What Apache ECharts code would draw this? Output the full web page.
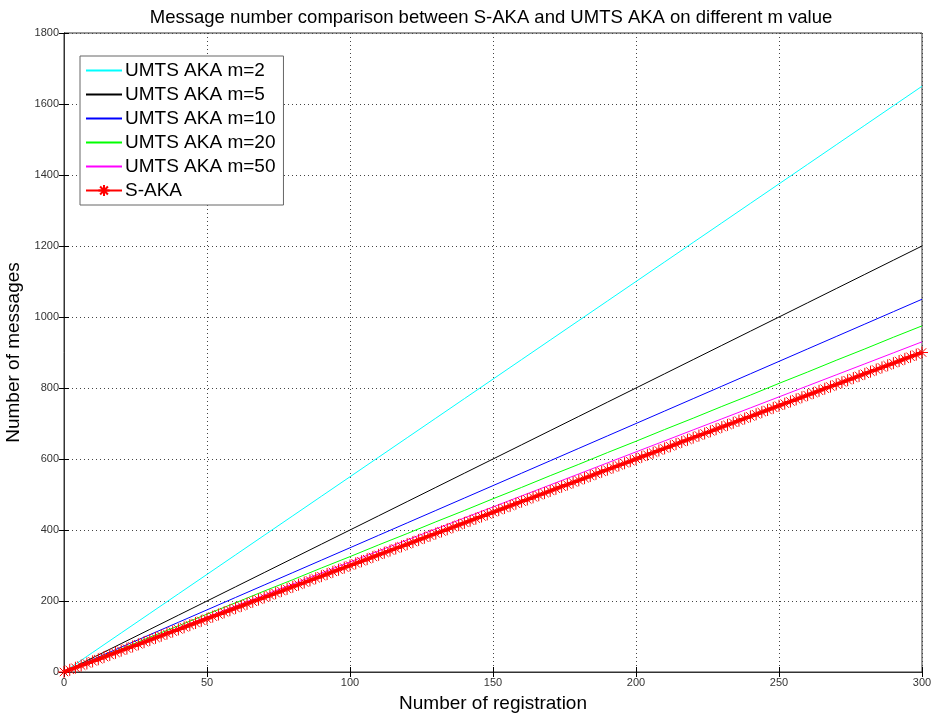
<!DOCTYPE html>
<html>
<head>
<meta charset="utf-8">
<script src="https://cdn.jsdelivr.net/npm/echarts@6/dist/echarts.min.js"></script>
<style>
html,body{margin:0;padding:0;background:#fff;}
#main{width:937px;height:713px;}
</style>
</head>
<body>
<div id="main"></div>
<script>
// registrations sampled every 10 for the UMTS curves
let regX = [0,10,20,30,40,50,60,70,80,90,100,110,120,130,140,150,160,170,180,190,200,210,220,230,240,250,260,270,280,290,300]
let umts2 = [0,55,110,165,220,275,330,385,440,495,550,605,660,715,770,825,880,935,990,1045,1100,1155,1210,1265,1320,1375,1430,1485,1540,1595,1650]
let umts5 = [0,40,80,120,160,200,240,280,320,360,400,440,480,520,560,600,640,680,720,760,800,840,880,920,960,1000,1040,1080,1120,1160,1200]
let umts10 = [0,35,70,105,140,175,210,245,280,315,350,385,420,455,490,525,560,595,630,665,700,735,770,805,840,875,910,945,980,1015,1050]
let umts20 = [0,33,65,98,130,163,195,228,260,293,325,358,390,423,455,488,520,553,585,618,650,683,715,748,780,813,845,878,910,943,975]
let umts50 = [0,31,62,93,124,155,186,217,248,279,310,341,372,403,434,465,496,527,558,589,620,651,682,713,744,775,806,837,868,899,930]

// S-AKA is drawn with a marker on (nearly) every registration
let sakaX = [0,2,4,6,8,10,12,14,16,18,20,22,24,26,28,30,32,34,36,38,40,42,44,46,48,50,52,54,56,58,60,62,64,66,68,70,72,74,76,78,80,82,84,86,88,90,92,94,96,98,100,102,104,106,108,110,112,114,116,118,120,122,124,126,128,130,132,134,136,138,140,142,144,146,148,150,152,154,156,158,160,162,164,166,168,170,172,174,176,178,180,182,184,186,188,190,192,194,196,198,200,202,204,206,208,210,212,214,216,218,220,222,224,226,228,230,232,234,236,238,240,242,244,246,248,250,252,254,256,258,260,262,264,266,268,270,272,274,276,278,280,282,284,286,288,290,292,294,296,298,300]
let saka = [0,6,12,18,24,30,36,42,48,54,60,66,72,78,84,90,96,102,108,114,120,126,132,138,144,150,156,162,168,174,180,186,192,198,204,210,216,222,228,234,240,246,252,258,264,270,276,282,288,294,300,306,312,318,324,330,336,342,348,354,360,366,372,378,384,390,396,402,408,414,420,426,432,438,444,450,456,462,468,474,480,486,492,498,504,510,516,522,528,534,540,546,552,558,564,570,576,582,588,594,600,606,612,618,624,630,636,642,648,654,660,666,672,678,684,690,696,702,708,714,720,726,732,738,744,750,756,762,768,774,780,786,792,798,804,810,816,822,828,834,840,846,852,858,864,870,876,882,888,894,900]

let names = ["UMTS AKA m=2","UMTS AKA m=5","UMTS AKA m=10","UMTS AKA m=20","UMTS AKA m=50","S-AKA"]
let colors = ["#00ffff","#000000","#0000ff","#00ff00","#ff00ff","#ff0000"]

function pairs(xs, ys){
    return xs.map((x,i)=>[x, ys[i]])
}

var myChart = echarts.init(document.getElementById('main'))

let font = 'Liberation Sans, Arial, sans-serif'
let star = 'path://M0,-5L0,5M-5,0L5,0M-3.5,-3.5L3.5,3.5M-3.5,3.5L3.5,-3.5'

let lineSeries = [umts2,umts5,umts10,umts20,umts50].map((ys,i)=>({
    name: names[i],
    type: 'line',
    data: pairs(regX, ys),
    showSymbol: false,
    symbol: 'none',
    lineStyle: {color: colors[i], width: 1},
    itemStyle: {color: colors[i]}
}))

// legend entries: plain lines for UMTS, line + star for S-AKA
let legendData = names.map((n,i)=> i < 5 ? {name: n, itemStyle: {opacity: 0}} : {name: n})

var option = {
    animation: false,
    backgroundColor: '#fff',
    title: {
      text: 'Message number comparison between S-AKA and UMTS AKA on different m value',
      left: 486,
      textAlign: 'center',
      top: 3,
      textStyle: {fontFamily: font, fontSize: 18.5, fontWeight: 'normal', color: '#000'}
    },
    grid: {left: 64, right: 15, top: 33, bottom: 41, show: true, borderColor: '#333', borderWidth: 1, outerBoundsMode: 'none'},
    legend: {
      orient: 'vertical',
      left: 80,
      top: 56,
      data: legendData,
      itemWidth: 36,
      itemHeight: 14,
      itemGap: 5,
      padding: [5, 8, 5, 5],
      backgroundColor: '#fff',
      borderColor: '#666',
      borderWidth: 1,
      textStyle: {fontFamily: font, fontSize: 19, color: '#000', padding: [0,0,0,-2]}
    },
    xAxis: [{
      type: 'value', min: 0, max: 300, interval: 50,
      name: 'Number of registration', nameLocation: 'middle', nameGap: 22,
      nameTextStyle: {fontFamily: font, fontSize: 19, color: '#000'},
      axisLine: {lineStyle: {color: '#333'}},
      axisTick: {inside: true, length: 5, lineStyle: {color: '#000'}},
      axisLabel: {fontFamily: font, fontSize: 11, color: '#333', margin: 5},
      splitLine: {show: true, lineStyle: {color: '#444', type: [1, 3], width: 1}}
    }, {
      type: 'value', min: 0, max: 300, interval: 50, position: 'top',
      axisLine: {lineStyle: {color: '#333'}},
      axisTick: {inside: true, length: 5, lineStyle: {color: '#000'}},
      axisLabel: {show: false}, splitLine: {show: false}
    }],
    yAxis: [{
      type: 'value', min: 0, max: 1800, interval: 200,
      name: 'Number of messages', nameLocation: 'middle', nameGap: 30,
      nameTextStyle: {fontFamily: font, fontSize: 19, color: '#000'},
      axisLine: {show: true, lineStyle: {color: '#333'}},
      axisTick: {show: true, inside: true, length: 5, lineStyle: {color: '#000'}},
      axisLabel: {fontFamily: font, fontSize: 11, color: '#333', margin: 5, formatter: v => String(v)},
      splitLine: {show: true, lineStyle: {color: '#444', type: [1, 3], width: 1}}
    }, {
      type: 'value', min: 0, max: 1800, interval: 200, position: 'right',
      axisLine: {show: true, lineStyle: {color: '#333'}},
      axisTick: {show: true, inside: true, length: 5, lineStyle: {color: '#000'}},
      axisLabel: {show: false}, splitLine: {show: false}
    }],
    series: lineSeries.concat([{
      name: names[5],
      type: 'line',
      data: pairs(sakaX, saka),
      symbol: star,
      symbolSize: 12,
      showAllSymbol: true,
      lineStyle: {color: colors[5], width: 3},
      itemStyle: {color: colors[5], borderColor: colors[5], borderWidth: 1}
    }])
};
myChart.setOption(option)
</script>
</body>
</html>
